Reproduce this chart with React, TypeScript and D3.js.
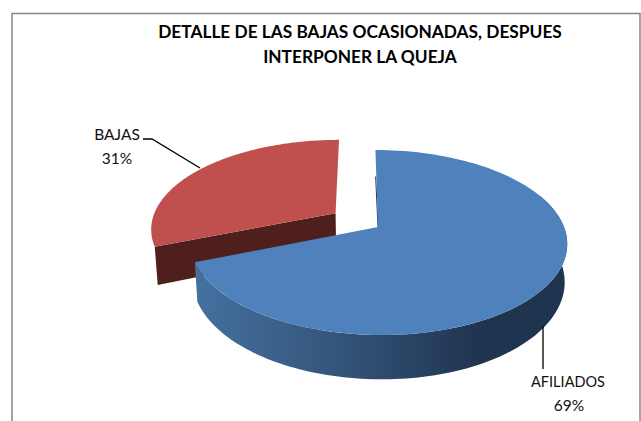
import React from 'react';
import * as d3 from 'd3';

const width = 641;
const height = 421;

const categories = ['AFILIADOS', 'BAJAS'];
const shares = [69, 31];
const sliceColors = ['#4F81BD', '#C0504D'];
const titleLines = ['DETALLE DE LAS BAJAS OCASIONADAS, DESPUES', 'INTERPONER LA QUEJA'];

// perspective of the pie: flat unit circle -> screen
const K = -0.1676;
const topPlane = { cx: 378, cy: 227, bx: 186, ay: 89.9, shear: 3 };
const basePlane = { cx: 378, cy: 264, bx: 183.5, ay: 96, shear: 3 };
type Plane = typeof topPlane;

const project = (u: number, v: number, p: Plane): [number, number] => {
  const w = 1 + K * v;
  return [p.cx + (p.bx * u + p.shear * v) / w, p.cy + (p.ay * v) / w];
};

const line = d3.line();

const pieLayout = d3.pie<number>().sort(null)(shares);

// points of the rim between two angles (0 = up, clockwise)
const rim = (a0: number, a1: number, p: Plane, ox = 0, oy = 0) =>
  d3.range(0, 121).map(i => {
    const a = a0 + ((a1 - a0) * i) / 120;
    return project(ox + Math.sin(a), oy - Math.cos(a), p);
  });

const explode = [0, 0.28];

export default function App() {
  const blue = pieLayout[0];
  const red = pieLayout[1];
  const redMid = (red.startAngle + red.endAngle) / 2;
  const ox = explode[1] * Math.sin(redMid);
  const oy = -explode[1] * Math.cos(redMid);

  const redTop = [project(ox, oy, topPlane), ...rim(red.startAngle, red.endAngle, topPlane, ox, oy)];
  const redCut = [
    project(ox, oy, topPlane),
    rim(red.startAngle, red.startAngle, topPlane, ox, oy)[0],
    rim(red.startAngle, red.startAngle, basePlane, ox, oy)[0],
    project(ox, oy, basePlane),
  ];

  const blueTop = [project(0, 0, topPlane), ...rim(blue.startAngle, blue.endAngle, topPlane)];
  // visible outer wall: from the right silhouette round to the cut at the left
  const wallStart = Math.PI * 0.38;
  const blueWall = [
    ...rim(wallStart, blue.endAngle, topPlane),
    ...rim(wallStart, blue.endAngle, basePlane).reverse(),
  ];
  const innerEdge = [project(-0.004, -0.62, topPlane), project(0, 0, topPlane)];

  return (
    <svg
      width={width}
      height={height}
      style={{ position: 'absolute', left: 0, top: 0, background: '#fff' }}
      fontFamily="Lato, sans-serif"
    >
      <defs>
        <linearGradient id="blueSide" gradientUnits="userSpaceOnUse" x1={195} x2={480} y1={0} y2={0}>
          <stop offset="0" stopColor="#44719F" />
          <stop offset="0.45" stopColor="#36587F" />
          <stop offset="1" stopColor="#1F344F" />
        </linearGradient>
      </defs>

      <path d="M12,421V13.5H640V421" fill="none" stroke="#868686" strokeWidth={1.5} />

      {titleLines.map((t, i) => (
        <text key={t} x={360} y={38 + i * 25} textAnchor="middle" fontSize={17.3} fontWeight={700} fill="#000">
          {t}
        </text>
      ))}

      <path d={line(redCut)!} fill="#4F1F1D" />
      <path d={line(redTop)! + 'Z'} fill={sliceColors[1]} />

      <path d={line(blueWall)! + 'Z'} fill="url(#blueSide)" />
      <path d={line(innerEdge)!} stroke="#1F344F" strokeWidth={1} fill="none" />
      <path d={line(blueTop)! + 'Z'} fill={sliceColors[0]} />

      <path d="M143,139H152L200,168" fill="none" stroke="#000" strokeWidth={1.3} />
      <path d="M543,326V369" fill="none" stroke="#000" strokeWidth={1.3} />

      <text x={117} y={140} textAnchor="middle" fontSize={15.5} fill="#111">{categories[1]}</text>
      <text x={117} y={164} textAnchor="middle" fontSize={15.5} fill="#111">{shares[1]}%</text>
      <text x={568} y={387} textAnchor="middle" fontSize={14.5} fill="#111">{categories[0]}</text>
      <text x={569} y={411} textAnchor="middle" fontSize={15.5} fill="#111">{shares[0]}%</text>
    </svg>
  );
}
